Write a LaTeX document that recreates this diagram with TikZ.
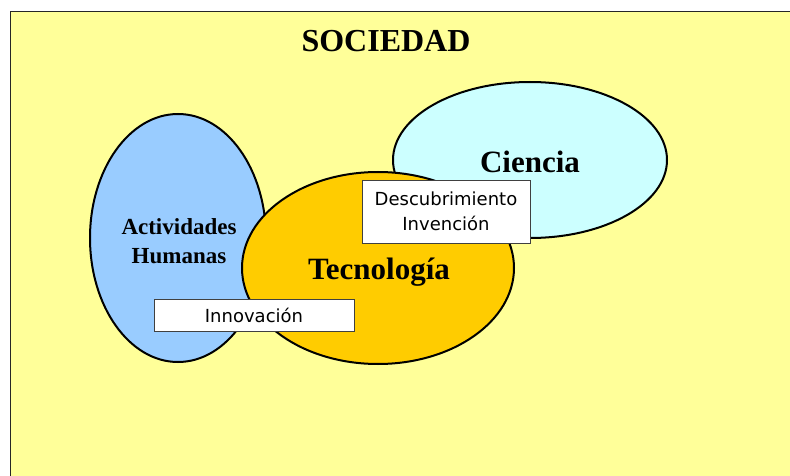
\documentclass[tikz,border=0pt]{standalone}
\usepackage{fontspec}
\setmainfont{Liberation Serif}
\newfontfamily\boxfont{DejaVu Sans}
\usetikzlibrary{shapes.geometric}
\definecolor{bgyellow}{HTML}{FFFF99}
\definecolor{actblue}{HTML}{99CCFF}
\definecolor{cicyan}{HTML}{CCFFFF}
\definecolor{tecgold}{HTML}{FFCC00}
\tikzset{
  blob/.style={ellipse, draw=black, line width=2pt, inner sep=0pt},
  title/.style={anchor=base, font=\bfseries\fontsize{31}{31}\selectfont},
  lbl/.style={anchor=base, font=\bfseries\fontsize{23}{23}\selectfont},
  tagbox/.style={draw=black!75, fill=white, line width=0.8pt, inner sep=0pt, align=center,
    font=\boxfont\fontsize{18}{25}\selectfont}
}
\begin{document}
\begin{tikzpicture}[x=1pt,y=-1pt]
\useasboundingbox (0,0) rectangle (790,476);
\clip (0,0) rectangle (790,476);
\fill[white] (0,0) rectangle (790,476);
\draw[fill=bgyellow, line width=1.5pt, draw=black!85] (10.5,11.5) rectangle (830,510);
\node[title, font=\bfseries\fontsize{32}{32}\selectfont] (soc) at (386,52) {SOCIEDAD};
\node[blob, fill=actblue, minimum width=176pt, minimum height=248pt] (act) at (178,238) {};
\node[blob, fill=cicyan, minimum width=274pt, minimum height=156pt] (cie) at (530,160) {};
\node[blob, fill=tecgold, minimum width=272pt, minimum height=192pt] (tec) at (378,268) {};
\node[lbl] (actA) at (179,234) {Actividades};
\node[lbl] (actH) at (179,263) {Humanas};
\node[title] (cieL) at (530,172) {Ciencia};
\node[title] (tecL) at (379,279) {Tecnología};
\node[tagbox, minimum width=168pt, minimum height=63pt] (desc) at (446,211.5) {Descubrimiento\\Invención};
\node[tagbox, minimum width=200pt, minimum height=32pt] (inno) at (254,315) {Innovación};
\end{tikzpicture}
\end{document}
